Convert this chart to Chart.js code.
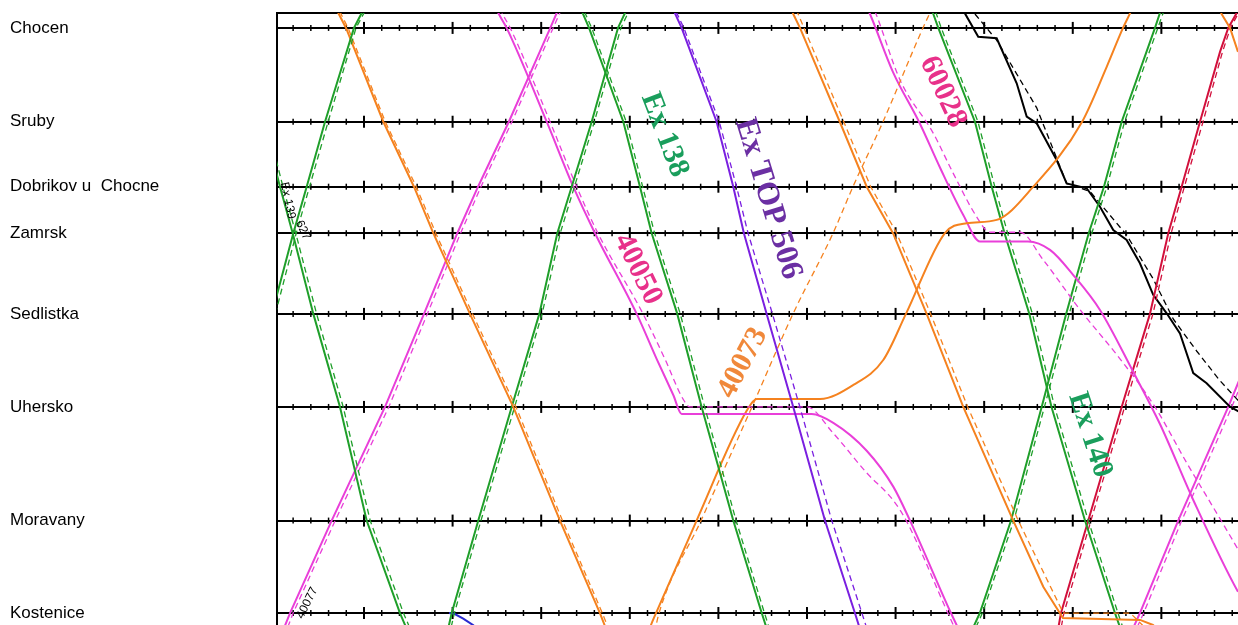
<!DOCTYPE html>
<html>
<head>
<meta charset="utf-8">
<script src="https://cdn.jsdelivr.net/npm/chart.js@4.4.0/dist/chart.umd.min.js"></script>
<style>
html, body { margin: 0; padding: 0; background: #fff; }
#wrap { width: 1238px; height: 625px; }
</style>
</head>
<body>
<div id="wrap"><canvas id="Grafico"></canvas></div>
<script>
// stanice a jejich poloha (km od Chocne)
var stations = ['Chocen', 'Sruby', 'Dobrikov u  Chocne', 'Zamrsk', 'Sedlistka', 'Uhersko', 'Moravany', 'Kostenice'];
var stationKm = [0, 4.78, 8.09, 10.46, 14.57, 19.31, 25.1, 29.81];

// vlaky: [minuta, km]  (skutecnost / plan)
var g1 = [[-0.4, 14.57], [2.02, 10.46], [3.53, 8.09], [5.6, 4.78], [8.87, 0], [9.74, -0.76], [10.2, -1.2]];
var g1Plan = [[0.0, 14.57], [2.35, 10.46], [3.85, 8.09], [5.95, 4.78], [9.1, 0], [10.0, -0.76], [10.5, -1.2]];
var g2 = [[-1.4, 4.78], [0.52, 8.09], [1.95, 10.46], [4.28, 14.57], [7.29, 19.31], [10.3, 25.1], [14.06, 29.81], [14.8, 30.6]];
var g2Plan = [[-1.0, 4.78], [0.85, 8.09], [2.3, 10.46], [4.65, 14.57], [7.65, 19.31], [10.7, 25.1], [14.45, 29.81], [15.2, 30.6]];
var o1 = [[6.2, -1.8], [7.1, -0.76], [7.97, 0], [12.18, 4.78], [15.64, 8.09], [17.82, 10.46], [21.96, 14.57], [26.85, 19.31], [32.12, 25.1], [36.63, 29.81], [37.3, 30.6]];
var o1Plan = [[6.5, -1.8], [7.35, -0.76], [8.2, 0], [12.4, 4.78], [15.9, 8.09], [18.1, 10.46], [22.25, 14.57], [27.15, 19.31], [32.4, 25.1], [36.9, 29.81], [37.6, 30.6]];
var m1 = [[0.6, 31.0], [1.65, 29.81], [6.35, 25.1], [12.37, 19.31], [16.77, 14.57], [20.53, 10.46], [22.87, 8.09], [26.35, 4.78], [31.03, 0], [31.75, -0.76], [32.3, -1.3]];
var m1Plan = [[1.0, 31.0], [2.0, 29.81], [6.75, 25.1], [12.8, 19.31], [17.15, 14.57], [20.9, 10.46], [23.2, 8.09], [26.7, 4.78], [31.35, 0], [32.1, -0.76], [32.6, -1.3]];
var g3 = [[19.3, 31.0], [19.9, 29.81], [22.9, 25.1], [26.67, 19.31], [29.79, 14.57], [31.82, 10.46], [33.44, 8.09], [35.7, 4.78], [38.67, 0], [39.46, -0.76], [40.0, -1.3]];
var g3Plan = [[19.6, 31.0], [20.2, 29.81], [23.2, 25.1], [27.0, 19.31], [30.1, 14.57], [32.15, 10.46], [33.75, 8.09], [36.0, 4.78], [39.0, 0], [39.8, -0.76], [40.3, -1.3]];
var ex138 = [[34.2, -1.3], [34.72, -0.71], [35.4, 0], [39.27, 4.78], [41.15, 8.09], [42.47, 10.46], [45.36, 14.57], [48.11, 19.31], [51.68, 25.1], [54.89, 29.81], [55.6, 30.8]];
var ex138Plan = [[34.5, -1.3], [35.0, -0.71], [35.7, 0], [39.6, 4.78], [41.45, 8.09], [42.8, 10.46], [45.7, 14.57], [48.45, 19.31], [52.0, 25.1], [55.2, 29.81], [55.9, 30.8]];
var top506 = [[44.7, -1.3], [45.08, -0.76], [45.85, 0], [49.8, 4.78], [51.68, 8.09], [52.88, 10.46], [55.45, 14.57], [58.45, 19.31], [62.03, 25.1], [65.41, 29.81], [66.1, 30.8]];
var top506Plan = [[44.9, -1.3], [45.3, -0.76], [46.1, 0], [50.1, 4.78], [52.05, 8.09], [53.35, 10.46], [56.1, 14.57], [59.2, 19.31], [62.8, 25.1], [66.2, 29.81], [66.9, 30.8]];
var r40050 = [[24.4, -1.5], [25.16, -0.76], [26.1, 0], [30.62, 4.78], [33.62, 8.09], [36.07, 10.46], [40.78, 14.57], [43.04, 16.87], [44.91, 18.7], [45.86, 19.67], [60.53, 19.67], [62.97, 20.12], [66.74, 21.54], [69.74, 23.37], [71.63, 25.1], [76.25, 29.81], [77.4, 30.9]];
var r40050Plan = [[25.0, -1.5], [25.6, -0.76], [26.5, 0], [31.0, 4.78], [34.0, 8.09], [36.4, 10.46], [41.5, 14.57], [44.0, 16.9], [46.0, 18.9], [46.8, 19.31], [59.97, 19.31], [62.93, 20.63], [66.74, 22.67], [69.7, 24.05], [71.2, 25.1], [75.9, 29.81], [77.0, 30.9]];
var r40073 = [[41.8, 31.2], [42.39, 30.42], [42.96, 29.81], [47.55, 25.09], [53.19, 19.51], [54.32, 18.9], [61.47, 18.9], [65.23, 18.19], [68.61, 16.92], [71.17, 14.57], [75.57, 10.45], [78.02, 9.95], [81.41, 9.78], [85.54, 8.09], [91.04, 4.79], [93.83, 1.98], [95.67, 0], [96.46, -0.74], [97.0, -1.3]];
var r40073Plan = [[42.8, 30.8], [43.3, 29.81], [48.04, 25.1], [53.79, 19.31], [58.42, 14.57], [62.94, 10.46], [65.19, 8.09], [68.58, 4.78], [73.09, 0], [73.88, -0.76], [74.5, -1.3]];
var o2 = [[57.8, -1.4], [58.45, -0.71], [59.21, 0], [63.7, 4.78], [66.74, 8.09], [69.71, 10.46], [73.51, 14.57], [77.64, 19.31], [83.28, 25.1], [86.67, 28.47], [88.55, 29.82], [88.89, 30.06], [97.6, 30.16], [99.05, 30.42], [100.4, 30.9]];
var o2Plan = [[58.4, -1.4], [59.0, -0.71], [59.66, 0], [64.15, 4.78], [67.19, 8.09], [70.13, 10.46], [73.96, 14.57], [78.14, 19.31], [83.85, 25.1], [88.93, 29.81], [96.49, 29.81], [97.85, 30.42], [98.8, 30.9]];
var o3 = [[106.0, -1.5], [106.8, -0.71], [107.75, 0], [108.65, 1.22], [110, 2.6]];
var r60028 = [[66.5, -1.3], [67.11, -0.71], [69.71, 2.25], [72.75, 4.88], [75.01, 7.11], [77.64, 9.53], [79.53, 10.88], [84.94, 10.88], [87.43, 11.31], [90.06, 12.59], [93.07, 14.37], [96.83, 17.53], [99.84, 20.18], [103.6, 24.05], [108.65, 28.73], [111.1, 30.42]];
var r60028Plan = [[67.2, -1.3], [67.79, -0.71], [70.5, 2.65], [74.26, 5.37], [76.51, 7.41], [79.15, 9.62], [80.65, 10.41], [84.04, 10.41], [86.67, 11.82], [90.84, 14.37], [95.35, 16.87], [99.28, 19.31], [102.85, 22.15], [106.6, 24.99], [110, 27.6]];
var ex140 = [[73.7, -1.3], [74.25, -0.72], [74.82, 0], [78.96, 4.78], [80.85, 8.09], [82.3, 10.46], [85.1, 14.57], [87.6, 19.31], [91.38, 25.1], [94.76, 29.81], [95.7, 31.0]];
var ex140Plan = [[74.1, -1.3], [74.6, -0.72], [75.15, 0], [79.3, 4.78], [81.2, 8.09], [82.65, 10.46], [85.45, 14.57], [87.95, 19.31], [91.75, 25.1], [95.1, 29.81], [96.0, 31.0]];
var g6 = [[78.3, 31.0], [79.51, 29.81], [83.03, 25.1], [86.49, 19.31], [89.25, 14.57], [91.8, 10.46], [93.52, 8.09], [95.52, 4.78], [99.28, 0], [99.84, -0.76], [100.3, -1.3]];
var g6Plan = [[78.6, 31.0], [79.8, 29.81], [83.35, 25.1], [86.8, 19.31], [89.6, 14.57], [92.15, 10.46], [93.85, 8.09], [95.85, 4.78], [99.6, 0], [100.2, -0.76], [100.7, -1.3]];
var red = [[88.2, 31.0], [88.67, 29.81], [91.75, 25.1], [95.52, 19.31], [98.71, 14.57], [100.78, 10.46], [102.29, 8.09], [104.36, 4.78], [106.62, 1.22], [107.55, 0], [108.5, -0.76], [109, -1.3]];
var redPlan = [[88.5, 31.0], [89.0, 29.81], [92.05, 25.1], [95.85, 19.31], [99.05, 14.57], [101.1, 10.46], [102.6, 8.09], [104.7, 4.78], [106.9, 1.22], [107.8, 0], [108.7, -0.76]];
var black = [[77.83, -0.74], [79.33, 0.45], [81.41, 0.53], [83.67, 2.82], [84.8, 4.52], [85.93, 4.86], [88.18, 6.73], [89.31, 7.92], [91.57, 8.17], [93.07, 9.11], [94.57, 10.3], [96.08, 10.8], [97.58, 11.99], [99.08, 13.6], [100.6, 14.54], [102.1, 15.56], [103.6, 17.59], [105.11, 18.1], [107.74, 19.3], [109.43, 19.72]];
var blackPlan = [[78.96, -0.71], [81.41, 0.62], [85.93, 4.07], [89.31, 7.92], [91.94, 8.33], [96.08, 10.55], [99.08, 12.79], [101.34, 14.83], [103.98, 16.46], [106.61, 17.97], [108.5, 18.9], [110, 19.6]];
var m4 = [[96.4, 31.0], [97.58, 29.81], [101.9, 25.1], [107.55, 19.31], [109.2, 17.5]];
var m4Plan = [[96.8, 31.0], [98.0, 29.81], [102.3, 25.1], [107.95, 19.31], [109.6, 17.5]];
var blue = [[19.6, 29.81], [20.2, 29.85], [21.2, 30.1], [22.4, 30.45]];

var zelena = '#1f9f2a', oranzova = '#f5821f', ruzova = '#e93fd9', fialova = '#7a1fe0',
    cervena = '#d2103c', modra = '#2a2ad0';

// [skutecnost, plan, barva, oblouky]
var trains = [
    [g1, g1Plan, zelena], [g2, g2Plan, zelena], [o1, o1Plan, oranzova], [m1, m1Plan, ruzova],
    [g3, g3Plan, zelena], [ex138, ex138Plan, zelena], [top506, top506Plan, fialova],
    [r40050, r40050Plan, ruzova, true], [r40073, r40073Plan, oranzova, true], [o2, o2Plan, oranzova],
    [o3, null, oranzova], [r60028, r60028Plan, ruzova, true], [ex140, ex140Plan, zelena],
    [g6, g6Plan, zelena], [red, redPlan, cervena], [black, blackPlan, '#000'],
    [m4, m4Plan, ruzova], [blue, null, modra]
];

var datasets = [];
trains.forEach(function (tr) {
    var mode = tr[3] ? 'monotone' : 'default';
    datasets.push({
        data: tr[0].map(p => ({ x: p[0], y: p[1] })),
        borderColor: tr[2], borderWidth: 2, showLine: true, pointRadius: 0,
        cubicInterpolationMode: mode
    });
    if (tr[1]) {
        datasets.push({
            data: tr[1].map(p => ({ x: p[0], y: p[1] })),
            borderColor: tr[2], borderWidth: 1.3, borderDash: [6, 4], showLine: true, pointRadius: 0,
            cubicInterpolationMode: mode
        });
    }
});

// popisky vlaku [text, minuta, km, uhel, barva, pismo]
var labels = [
    ['Ex 138', 43.9, 5.45, 69, '#1a9e5c', 'bold 30px "Liberation Serif"'],
    ['Ex TOP 506', 55.6, 8.7, 73, '#6b2fa3', 'bold 32px "Liberation Serif"'],
    ['40050', 40.9, 12.3, 64, '#e8318a', 'bold 30px "Liberation Serif"'],
    ['40073', 52.77, 17.07, -62, '#f0883a', 'bold 30px "Liberation Serif"'],
    ['60028', 75.34, 3.26, 65, '#e8318a', 'bold 30px "Liberation Serif"'],
    ['Ex 140', 91.93, 20.74, 72, '#1a9e5c', 'bold 30px "Liberation Serif"'],
    ['Ex 139', 1.4, 8.8, 78, '#000', '12px "Liberation Sans"'],
    ['627', 3.1, 10.3, 65, '#000', '12px "Liberation Sans"'],
    ['40077', 3.6, 29.3, -63, '#000', '12px "Liberation Sans"']
];

// drobne znacky casu na kazde stanicni care
var tickMarks = {
    id: 'tickMarks',
    beforeDatasetsDraw: function (chart) {
        var ctx = chart.ctx, xs = chart.scales.x, ys = chart.scales.y;
        ctx.save();
        ctx.strokeStyle = '#000';
        stationKm.forEach(function (km) {
            var y = ys.getPixelForValue(km);
            for (var t = 2; t <= 108; t += 2) {
                var x = xs.getPixelForValue(t);
                var h = (t % 10 === 0) ? 6 : 3;
                ctx.lineWidth = (t % 10 === 0) ? 2 : 1.5;
                ctx.beginPath();
                ctx.moveTo(x, y - h);
                ctx.lineTo(x, y + h);
                ctx.stroke();
            }
        });
        ctx.restore();
    }
};

var trainLabels = {
    id: 'trainLabels',
    afterDatasetsDraw: function (chart) {
        var ctx = chart.ctx, xs = chart.scales.x, ys = chart.scales.y;
        ctx.save();
        labels.forEach(function (l) {
            ctx.save();
            ctx.translate(xs.getPixelForValue(l[1]), ys.getPixelForValue(l[2]));
            ctx.rotate(l[3] * Math.PI / 180);
            ctx.font = l[5];
            ctx.fillStyle = l[4];
            ctx.textAlign = 'center';
            ctx.textBaseline = 'middle';
            ctx.fillText(l[0], 0, 0);
            ctx.restore();
        });
        ctx.restore();
    }
};

var ctx = document.getElementById('Grafico').getContext('2d');
var grafikon = new Chart(ctx, {
    type: 'scatter',
    data: { datasets: datasets },
    plugins: [tickMarks, trainLabels],
    options: {
        responsive: true,
        maintainAspectRatio: false,
        animation: false,
        devicePixelRatio: 1,
        layout: { padding: { left: 10, top: 13, right: 0, bottom: 0 } },
        plugins: { legend: { display: false }, tooltip: { enabled: false } },
        elements: { line: { tension: 0 } },
        scales: {
            x: {
                type: 'linear', position: 'top', min: 0.18, max: 108.65,
                afterFit: function (scale) {
                    scale.height = 0;
                    scale.paddingLeft = 0; scale.paddingRight = 0;
                },
                grid: { display: false },
                ticks: { display: false },
                border: { display: true, color: '#000', width: 2 }
            },
            y: {
                type: 'linear', reverse: true, min: -0.76, max: 30.42,
                afterBuildTicks: function (scale) {
                    scale.ticks = stationKm.map(v => ({ value: v }));
                },
                afterFit: function (scale) {
                    scale.width = 267;
                    scale.paddingTop = 0; scale.paddingBottom = 0;
                },
                ticks: {
                    autoSkip: false,
                    crossAlign: 'far',
                    color: '#000',
                    font: { family: '"Liberation Sans", Arial, sans-serif', size: 17 },
                    callback: function (v, i) { return stations[i]; }
                },
                grid: { color: '#000', lineWidth: 2, drawTicks: false },
                border: { display: true, color: '#000', width: 2 }
            }
        }
    }
});
</script>
</body>
</html>
